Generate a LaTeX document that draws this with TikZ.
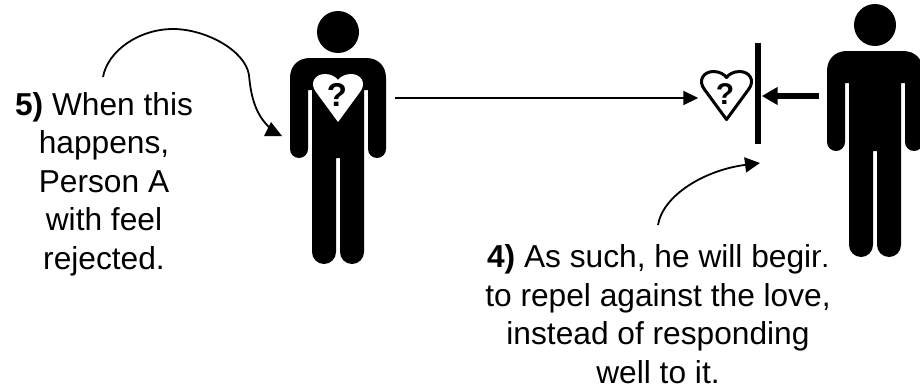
\documentclass[tikz,border=0pt]{standalone}
\usepackage{fontspec}
\setmainfont{Liberation Sans}
\usetikzlibrary{arrows.meta}
\tikzset{
  x=1pt,y=-1pt,
  label text/.style={align=center,font=\fontsize{31.7}{38.5}\selectfont,inner sep=0pt},
  thin arrow/.style={line width=1.8pt,-{Triangle[length=15pt,width=14pt]}},
  curve line/.style={line width=1.8pt},
  curve arrow/.style={line width=1.8pt,-{Triangle[length=15pt,width=15pt]}},
  thick arrow/.style={line width=6pt,-{Triangle[length=16pt,width=17pt]}},
}
\newcommand{\personfig}[2]{%
\begin{scope}[shift={(#1,#2)}]
  \fill (0,0) circle (21);
  \fill (-28,26) .. controls (-40,26) and (-48,34) .. (-48,46) -- (-48,117) arc[start angle=180,end angle=0,x radius=9,y radius=9]
   -- (-30,58) -- (-26,58) -- (-26,220) arc[start angle=180,end angle=0,x radius=12,y radius=12] -- (-2,126) -- (2,126) -- (2,220)
   arc[start angle=180,end angle=0,x radius=12,y radius=12] -- (26,58) -- (30,58) -- (30,117) arc[start angle=180,end angle=0,x radius=9,y radius=9] -- (48,46)
   .. controls (48,34) and (40,26) .. (28,26) -- cycle;
\end{scope}}
\newcommand{\heartpath}[3]{%
  (#1,#2+#3*48) -- (#1-#3*22,#2+#3*18) .. controls (#1-#3*29,#2+#3*9) and (#1-#3*23,#2+#3*0) .. (#1-#3*13,#2+#3*0)
  .. controls (#1-#3*7,#2+#3*0) and (#1-#3*2,#2+#3*3) .. (#1,#2+#3*6)
  .. controls (#1+#3*2,#2+#3*3) and (#1+#3*7,#2+#3*0) .. (#1+#3*13,#2+#3*0)
  .. controls (#1+#3*23,#2+#3*0) and (#1+#3*29,#2+#3*9) .. (#1+#3*22,#2+#3*18) -- cycle}
\begin{document}
\begin{tikzpicture}
\useasboundingbox (0,0) rectangle (920,388);
\personfig{338}{32}
\personfig{875}{25}
\fill[white] \heartpath{338}{74}{1};
\node[font=\bfseries\fontsize{33}{33}\selectfont,inner sep=0pt] (qa) at (337,95) {?};
\draw[line width=3pt,line join=round] \heartpath{726.5}{71.5}{1};
\node[font=\bfseries\fontsize{30}{30}\selectfont,inner sep=0pt] (qb) at (725,94) {?};
\node[minimum width=6pt,minimum height=101pt,fill=black,inner sep=0pt] (bar) at (758,93.5) {};
\node[inner sep=0pt,minimum size=1pt] (a0) at (394,98) {};
\node[inner sep=0pt,minimum size=1pt] (a1) at (699,98) {};
\draw[thin arrow] (a0) -- (a1);
\node[inner sep=0pt,minimum size=1pt] (b0) at (820,96) {};
\node[inner sep=0pt,minimum size=1pt] (b1) at (761,96) {};
\draw[thick arrow] (b0) -- (b1);
\node[label text] (t5) at (104,184) {\textbf{5)} When this\\happens,\\Person A\\with feel\\rejected.};
\node[label text] (t4) at (658,314) {\textbf{4)} As such, he will begin\\to repel against the love,\\instead of responding\\well to it.};
\fill[white] (820.5,240) rectangle (832,263.5);
\coordinate (c5s) at (103,77);
\coordinate (c5e) at (270,128);
\draw[curve line] (c5s) .. controls (108,50) and (140,29) .. (173,29) .. controls (205,29) and (245,50) .. (249,75) .. controls (251,98) and (256,115) .. (c5e);
\fill (264,136) -- (282,136) -- (271,122) -- cycle;
\coordinate (c4s) at (658,225);
\coordinate (c4e) at (760,163);
\draw[curve arrow] (c4s) .. controls (663,195) and (705,170) .. (c4e);
\end{tikzpicture}
\end{document}
